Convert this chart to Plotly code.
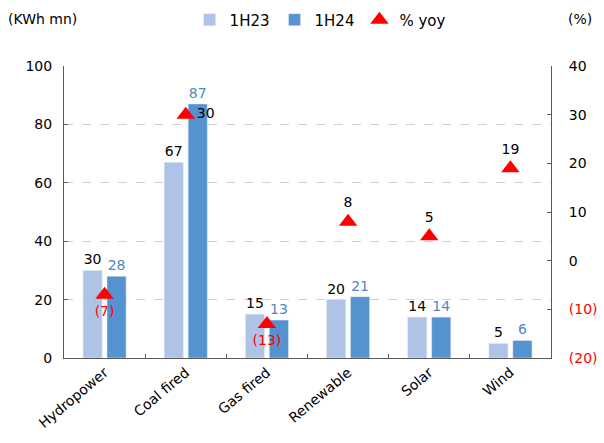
import plotly.graph_objects as go

categories = ["Hydropower", "Coal fired", "Gas fired", "Renewable", "Solar", "Wind"]
gen_1h23 = [30, 67, 15, 20, 14, 5]
gen_1h24 = [28, 87, 13, 21, 14, 6]
yoy_pct = [-7, 30, -13, 8, 5, 19]

left_ticks = [0, 20, 40, 60, 80, 100]
right_ticks = [-20, -10, 0, 10, 20, 30, 40]

FONT = "DejaVu Sans"
C23 = "#AEC3E6"
C24 = "#5592D0"
RED = "#FF0000"


def paren(v):
    return f"({abs(v)})" if v < 0 else f"{v}"


yoy_text = [paren(v) for v in yoy_pct]
yoy_pos = []
for c, v in zip(categories, yoy_pct):
    if c == "Coal fired":
        yoy_pos.append("middle right")
    elif v < 0:
        yoy_pos.append("bottom center")
    else:
        yoy_pos.append("top center")
yoy_col = [RED if v < 0 else "#000000" for v in yoy_pct]

right_text = [
    f'<span style="color:{RED}">{paren(v)}</span>' if v < 0 else paren(v)
    for v in right_ticks
]

fig = go.Figure()
fig.add_trace(go.Bar(
    x=categories, y=gen_1h23, name="1H23", marker_color=C23,
    text=[str(v) for v in gen_1h23], textposition="outside",
    textfont=dict(color="#000000", size=14, family=FONT), cliponaxis=False,
))
fig.add_trace(go.Bar(
    x=categories, y=gen_1h24, name="1H24", marker_color=C24,
    text=[str(v) for v in gen_1h24], textposition="outside",
    textfont=dict(color="#4F86C6", size=14, family=FONT), cliponaxis=False,
))
fig.add_trace(go.Scatter(
    x=categories, y=yoy_pct, name="% yoy", yaxis="y2", mode="markers+text",
    marker=dict(symbol="triangle-up", size=16, color=RED),
    text=yoy_text, textposition=yoy_pos,
    textfont=dict(color=yoy_col, size=14, family=FONT), cliponaxis=False,
))

fig.update_layout(
    width=604, height=443,
    margin=dict(l=64, r=53, t=66, b=85),
    paper_bgcolor="white", plot_bgcolor="white",
    font=dict(family=FONT, size=14, color="#000000"),
    barmode="group", bargap=0.41, bargroupgap=0.2,
    showlegend=True,
    legend=dict(
        orientation="h", xref="container", yref="container",
        x=0.53, xanchor="center", y=0.955, yanchor="middle",
        font=dict(size=15, family=FONT), itemwidth=30, traceorder="normal",
        tracegroupgap=0,
    ),
    xaxis=dict(
        showline=True, linecolor="#595959", linewidth=1, automargin=False,
        ticks="inside", tickson="boundaries", ticklen=4, tickcolor="#595959",
        tickangle=-40, tickfont=dict(size=14), showgrid=False,
    ),
    yaxis=dict(
        range=[0, 100], tickvals=left_ticks, automargin=False,
        showline=True, linecolor="#595959", linewidth=1,
        ticks="inside", ticklen=4, tickcolor="#595959",
        showgrid=True, gridcolor="#D0D0D0", griddash="dash", gridwidth=1,
        zeroline=False, tickfont=dict(size=14), ticklabelstandoff=8,
    ),
    yaxis2=dict(
        range=[-20, 40], tickvals=right_ticks, ticktext=right_text,
        overlaying="y", side="right", automargin=False,
        showline=True, linecolor="#595959", linewidth=1,
        ticks="inside", ticklen=4, tickcolor="#595959",
        showgrid=False, zeroline=False, tickfont=dict(size=14),
        ticklabelstandoff=14,
    ),
    annotations=[
        dict(text="(KWh mn)", xref="paper", yref="paper", x=-0.12, y=1.16,
             xanchor="left", yanchor="middle", showarrow=False,
             font=dict(size=14)),
        dict(text="(%)", xref="paper", yref="paper", x=1.06, y=1.16,
             xanchor="center", yanchor="middle", showarrow=False,
             font=dict(size=14)),
    ],
)

fig.write_html("out.html")
